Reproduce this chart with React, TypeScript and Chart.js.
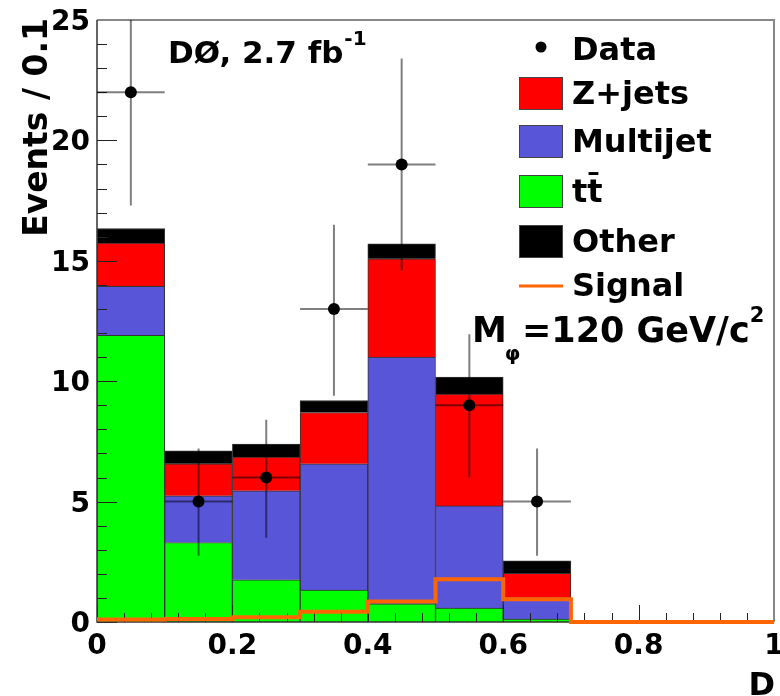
import React, { useEffect, useRef } from 'react';
import { Chart, registerables } from 'chart.js';

Chart.register(...registerables);

// ---------- data ----------
const binEdges = [0, 0.1, 0.2, 0.3, 0.4, 0.5, 0.6, 0.7, 0.8, 0.9, 1.0];
const binCenters = [0.05, 0.15, 0.25, 0.35, 0.45, 0.55, 0.65];
const ttbar = [11.9, 3.3, 1.75, 1.33, 0.75, 0.58, 0.12];
const multijet = [2.04, 1.94, 3.7, 5.24, 10.25, 4.24, 0.89];
const zjets = [1.8, 1.33, 1.4, 2.13, 4.08, 4.65, 1.01];
const other = [0.6, 0.54, 0.54, 0.5, 0.62, 0.7, 0.52];
const signal = [0.1, 0.12, 0.2, 0.43, 0.85, 1.78, 0.94, 0, 0, 0];
const dataVals = [22, 5, 6, 13, 19, 9, 5];
const dataLow = [17.3, 2.75, 3.5, 9.4, 14.6, 6.0, 2.75];
const dataHigh = [27.7, 7.2, 8.4, 16.5, 23.4, 11.95, 7.2];

const yTickValues = [0, 5, 10, 15, 20, 25];
const yTickLabels = ['0', '5', '10', '15', '20', '25'];
const xTickValues = [0, 0.2, 0.4, 0.6, 0.8, 1];
const xTickLabels = ['0', '0.2', '0.4', '0.6', '0.8', '1'];
const yMinorStep = 1;
const xMinorStep = 0.04;

const legendLabels = ['Data', 'Z+jets', 'Multijet', 't\u0074\u0304', 'Other', 'Signal'];

const COLORS = {
  ttbar: '#00ff00',
  multijet: '#5955d8',
  zjets: '#ff0000',
  other: '#000000',
  signal: '#ff6600',
};

const FONT = '"DejaVu Sans", sans-serif';

const SIGNAL_IDX = 4;
const DATA_IDX = 5;

function txt(ctx: CanvasRenderingContext2D, s: string, x: number, y: number, size: number, align: CanvasTextAlign = 'left') {
  ctx.font = `bold ${size}px ${FONT}`;
  ctx.textAlign = align;
  ctx.textBaseline = 'alphabetic';
  ctx.fillStyle = '#000';
  ctx.fillText(s, x, y);
  return ctx.measureText(s).width;
}

function drawAxes(chart: any) {
  const ctx: CanvasRenderingContext2D = chart.ctx;
  const xs = chart.scales.x;
  const ys = chart.scales.y;
  const { left, right, top, bottom } = chart.chartArea;
  ctx.save();
  ctx.strokeStyle = '#222';
  ctx.lineWidth = 1;
  for (let v = 0; v <= 25 + 1e-9; v += yMinorStep) {
    const py = Math.round(ys.getPixelForValue(v)) + 0.5;
    const major = yTickValues.some((t) => Math.abs(t - v) < 1e-9);
    ctx.beginPath();
    ctx.moveTo(left, py);
    ctx.lineTo(left + (major ? 20 : 10), py);
    ctx.stroke();
  }
  for (let i = 0; i <= 25; i++) {
    const v = i * xMinorStep;
    const px = Math.round(xs.getPixelForValue(v)) + 0.5;
    const major = xTickValues.some((t) => Math.abs(t - v) < 1e-9);
    ctx.beginPath();
    ctx.moveTo(px, bottom);
    ctx.lineTo(px, bottom - (major ? 17 : 9));
    ctx.stroke();
  }
  ctx.strokeStyle = '#888';
  ctx.lineWidth = 2;
  ctx.beginPath();
  ctx.moveTo(left, top);
  ctx.lineTo(right, top);
  ctx.lineTo(right, bottom);
  ctx.stroke();
  ctx.strokeStyle = '#333';
  ctx.lineWidth = 1.5;
  ctx.beginPath();
  ctx.moveTo(left, top);
  ctx.lineTo(left, bottom);
  ctx.lineTo(right, bottom);
  ctx.stroke();
  ctx.restore();
}

function drawErrorBars(chart: any) {
  const ctx: CanvasRenderingContext2D = chart.ctx;
  const xs = chart.scales.x;
  const ys = chart.scales.y;
  const { left, right, top, bottom } = chart.chartArea;
  ctx.save();
  ctx.beginPath();
  ctx.rect(left, top, right - left, bottom - top);
  ctx.clip();
  ctx.strokeStyle = 'rgba(0,0,0,0.5)';
  ctx.lineWidth = 2;
  for (let i = 0; i < dataVals.length; i++) {
    const px = xs.getPixelForValue(binCenters[i]);
    const py = ys.getPixelForValue(dataVals[i]);
    ctx.beginPath();
    ctx.moveTo(px, ys.getPixelForValue(dataLow[i]));
    ctx.lineTo(px, ys.getPixelForValue(dataHigh[i]));
    ctx.moveTo(xs.getPixelForValue(binEdges[i]), py);
    ctx.lineTo(xs.getPixelForValue(binEdges[i + 1]), py);
    ctx.stroke();
  }
  ctx.restore();
}

function drawTexts(chart: any) {
  const ctx: CanvasRenderingContext2D = chart.ctx;
  const xs = chart.scales.x;
  const ys = chart.scales.y;
  const { left, right, bottom } = chart.chartArea;
  ctx.save();
  yTickValues.forEach((v, i) => {
    txt(ctx, yTickLabels[i], left - 7, ys.getPixelForValue(v) + 10, 28, 'right');
  });
  xTickValues.forEach((v, i) => {
    txt(ctx, xTickLabels[i], xs.getPixelForValue(v), bottom + 32, 28, 'center');
  });
  txt(ctx, 'D', right + 1, 695, 32, 'right');
  ctx.save();
  ctx.translate(47, 18);
  ctx.rotate(-Math.PI / 2);
  txt(ctx, 'Events / 0.1', 0, 0, 33, 'right');
  ctx.restore();
  const w = txt(ctx, 'D\u00d8, 2.7 fb', 168, 63, 31);
  txt(ctx, '-1', 168 + w + 1, 45, 20);

  const lx = 572;
  const base = [60, 104, 152, 202, 252, 296];
  legendLabels.forEach((l, i) => txt(ctx, l, lx, base[i], 32));
  ctx.fillStyle = '#000';
  ctx.beginPath();
  ctx.arc(541, 47, 5.5, 0, Math.PI * 2);
  ctx.fill();
  const boxes = [COLORS.zjets, COLORS.multijet, COLORS.ttbar, COLORS.other];
  boxes.forEach((c, i) => {
    const y = base[i + 1] - 27;
    ctx.fillStyle = c;
    ctx.fillRect(519, y, 44, 33);
    ctx.strokeStyle = '#444';
    ctx.lineWidth = 1;
    ctx.strokeRect(519.5, y + 0.5, 43, 32);
  });
  ctx.strokeStyle = COLORS.signal;
  ctx.lineWidth = 3;
  ctx.beginPath();
  ctx.moveTo(519, 286);
  ctx.lineTo(563, 286);
  ctx.stroke();
  const wm = txt(ctx, 'M', 472, 342, 35);
  txt(ctx, '\u03c6', 472 + wm - 2, 360, 20);
  const w2 = txt(ctx, '=120 GeV/c', 522, 342, 35);
  txt(ctx, '2', 522 + w2 + 0, 322, 21);
  ctx.restore();
}

const overlayPlugin = {
  id: 'overlay',
  beforeDatasetDraw(chart: any, args: any) {
    if (args.index === SIGNAL_IDX) drawAxes(chart);
    if (args.index === DATA_IDX) drawErrorBars(chart);
  },
  afterDraw(chart: any) {
    drawTexts(chart);
  },
};

export default function App() {
  const ref = useRef<HTMLCanvasElement>(null);
  useEffect(() => {
    const toXY = (arr: number[]) => arr.map((v, i) => ({ x: binCenters[i], y: v }));
    const signalPts = signal.map((v, i) => ({ x: binEdges[i], y: v }));
    signalPts.push({ x: binEdges[binEdges.length - 1], y: signal[signal.length - 1] });
    const barCommon = {
      type: 'bar' as const,
      borderColor: '#333',
      borderWidth: { top: 1, left: 1, right: 1, bottom: 0 },
      borderSkipped: false as const,
      barPercentage: 1,
      categoryPercentage: 1,
      order: 2,
    };
    const chart = new Chart(ref.current!, {
      type: 'bar',
      data: {
        datasets: [
          { ...barCommon, label: 'ttbar', data: toXY(ttbar), backgroundColor: COLORS.ttbar },
          { ...barCommon, label: 'Multijet', data: toXY(multijet), backgroundColor: COLORS.multijet },
          { ...barCommon, label: 'Z+jets', data: toXY(zjets), backgroundColor: COLORS.zjets },
          { ...barCommon, label: 'Other', data: toXY(other), backgroundColor: COLORS.other },
          {
            type: 'line',
            label: 'Signal',
            data: signalPts,
            stepped: true,
            borderColor: COLORS.signal,
            borderWidth: 4,
            pointRadius: 0,
            fill: false,
            order: 1,
            clip: 6,
          } as any,
          {
            type: 'scatter',
            label: 'Data',
            data: toXY(dataVals),
            pointRadius: 6,
            pointBackgroundColor: '#000',
            pointBorderColor: '#000',
            pointBorderWidth: 0,
            order: 0,
          } as any,
        ],
      },
      options: {
        responsive: false,
        animation: false,
        devicePixelRatio: 1,
        layout: { padding: { left: 97, top: 20, right: 5, bottom: 74 } },
        scales: {
          x: { type: 'linear', min: 0, max: 1, offset: false, stacked: true, display: false, ticks: { stepSize: 0.2 } },
          y: { type: 'linear', min: 0, max: 25, stacked: true, display: false },
        },
        plugins: { legend: { display: false }, tooltip: { enabled: false } },
      } as any,
      plugins: [overlayPlugin],
    });
    return () => chart.destroy();
  }, []);
  return (
    <div style={{ position: 'fixed', left: 0, top: 0, width: 780, height: 696, background: '#fff' }}>
      <canvas ref={ref} width={780} height={696} style={{ display: 'block' }} />
    </div>
  );
}
